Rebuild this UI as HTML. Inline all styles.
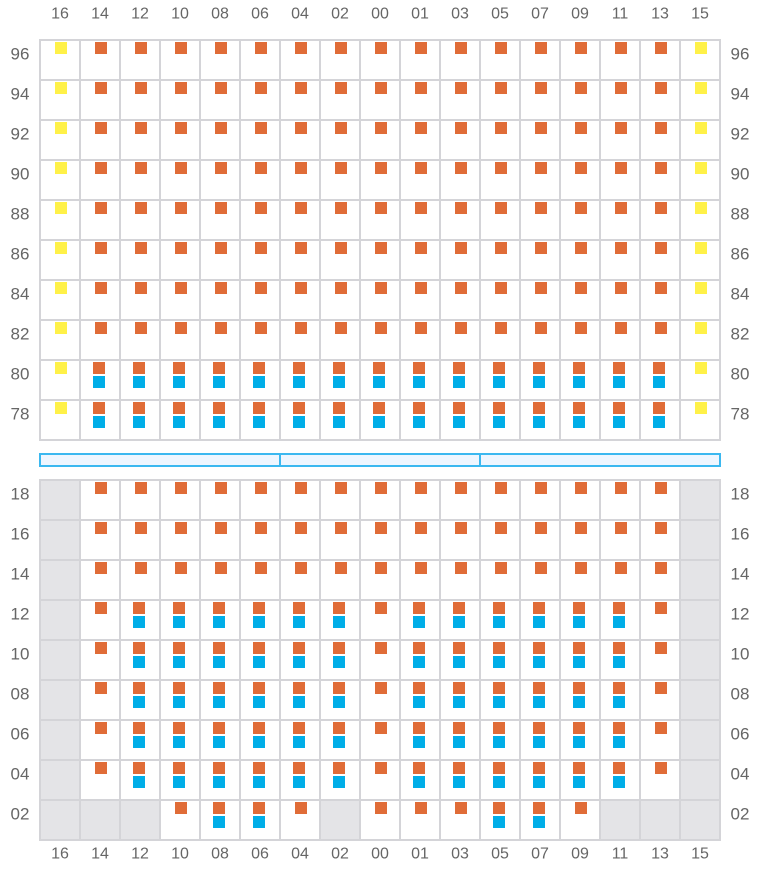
<!DOCTYPE html>
<html><head><meta charset="utf-8"><style>
html,body{margin:0;padding:0;background:#fff}
svg text{font-family:"Liberation Sans",sans-serif;font-size:16px;fill:#666}
svg text.r{font-size:17px}
</style></head><body>
<svg id="s" width="760" height="880" xmlns="http://www.w3.org/2000/svg"></svg>
<script>
const s=document.getElementById('s');let h='';
const cols=['16','14','12','10','08','06','04','02','00','01','03','05','07','09','11','13','15'];
const O='#e06c37',B='#00aee8',Y='#fff148';
function cell(x,y,fill){h+=`<rect x="${x}" y="${y}" width="40" height="40" fill="${fill}" stroke="#d4d4d8" stroke-width="2"/>`;}
function sq(x,y,c){h+=`<rect x="${x}" y="${y}" width="12" height="12" fill="${c}"/>`;}
function lab(y,r){
 h+=`<text class="r" x="20" y="${y+14}" text-anchor="middle" dominant-baseline="central">${r}</text>`;
 h+=`<text class="r" x="740" y="${y+14}" text-anchor="middle" dominant-baseline="central">${r}</text>`;
}
const topRows=['96','94','92','90','88','86','84','82','80','78'];
topRows.forEach((r,i)=>{const y=40+i*40;
 for(let c=0;c<17;c++){cell(40+c*40,y,'#fff');}
});
topRows.forEach((r,i)=>{const y=40+i*40;
 for(let c=0;c<17;c++){const x=40+c*40;
  if(c==0||c==16){sq(x+15,y+2,Y);}
  else if(i>=8){sq(x+13,y+2,O);sq(x+13,y+16,B);}
  else sq(x+15,y+2,O);
 }
 lab(y,r);
});
h+=`<rect x="40" y="454" width="680" height="12" fill="#eef6ff" stroke="#3bb8f0" stroke-width="2"/>`;
h+=`<line x1="280" y1="454" x2="280" y2="466" stroke="#3bb8f0" stroke-width="2"/><line x1="480" y1="454" x2="480" y2="466" stroke="#3bb8f0" stroke-width="2"/>`;
const botRows=['18','16','14','12','10','08','06','04','02'];
const G='g',Oo='o',OB='b';
function rowDef(i){
 if(i<3) return cols.map((_,c)=>c==0||c==16?G:Oo);
 if(i<8) return cols.map((_,c)=>c==0||c==16?G:(c==1||c==8||c==15?Oo:OB));
 return [G,G,G,Oo,OB,OB,Oo,G,Oo,Oo,Oo,OB,OB,Oo,G,G,G];
}
botRows.forEach((r,i)=>{const y=480+i*40;const d=rowDef(i);
 for(let c=0;c<17;c++){cell(40+c*40,y,d[c]==G?'#e4e4e7':'#fff');}
});
botRows.forEach((r,i)=>{const y=480+i*40;const d=rowDef(i);
 for(let c=0;c<17;c++){const x=40+c*40;
  if(d[c]==Oo)sq(x+15,y+2,O);
  else if(d[c]==OB){sq(x+13,y+2,O);sq(x+13,y+16,B);}
 }
 lab(y,r);
});
cols.forEach((c,i)=>{const x=60+i*40;
 h+=`<text x="${x}" y="14" text-anchor="middle" dominant-baseline="central">${c}</text>`;
 h+=`<text x="${x}" y="854" text-anchor="middle" dominant-baseline="central">${c}</text>`;
});
s.innerHTML=h;
</script>
</body></html>
